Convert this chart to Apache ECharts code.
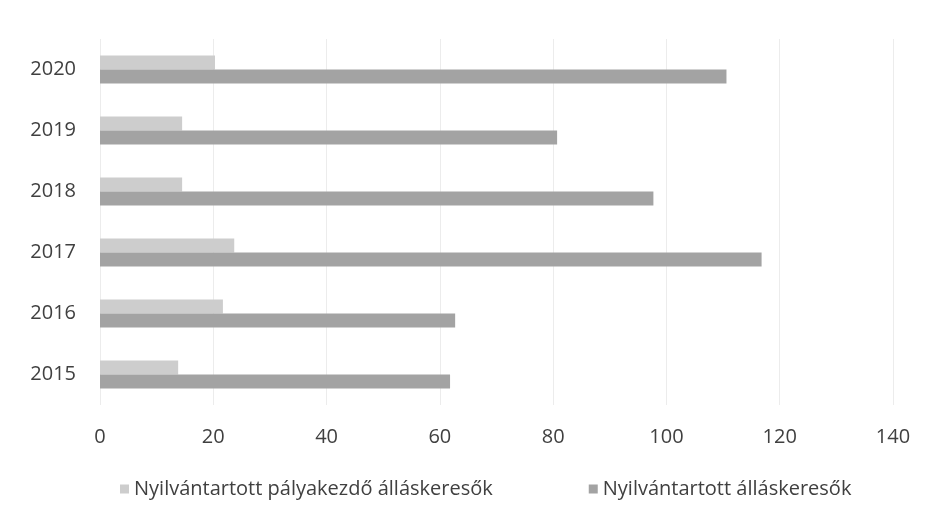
<!DOCTYPE html>
<html><head><meta charset="utf-8">
<script src="https://cdn.jsdelivr.net/npm/echarts@6/dist/echarts.min.js"></script>
<style>html,body{margin:0;padding:0;background:#fff}#c{width:930px;height:516px}</style>
</head><body><div id="c"></div>
<script>
const years = ['2015','2016','2017','2018','2019','2020'];
const palyakezdo = [13.8, 21.7, 23.7, 14.5, 14.5, 20.3];
const allaskeresok = [61.8, 62.7, 116.8, 97.7, 80.7, 110.6];
const xTicks = {min: 0, max: 140, interval: 20};
const nameLight = 'Nyilvántartott pályakezdő álláskeresők';
const nameDark = 'Nyilvántartott álláskeresők';

const chart = echarts.init(document.getElementById('c'));
chart.setOption({
  animation: false,
  textStyle: {fontFamily: 'Open Sans'},
  grid: {left: 100, right: 37, top: 39, bottom: 111, containLabel: false},
  legend: {
    data: [nameLight, nameDark],
    top: 474, left: 115,
    itemWidth: 9, itemHeight: 9, itemGap: 96,
    icon: 'rect',
    textStyle: {fontSize: 20, color: '#404040', fontFamily: 'Open Sans'}
  },
  xAxis: {
    type: 'value', min: xTicks.min, max: xTicks.max, interval: xTicks.interval,
    axisLine: {show: false}, axisTick: {show: false},
    axisLabel: {fontSize: 20, color: '#404040', margin: 22},
    splitLine: {lineStyle: {color: '#ececec'}}
  },
  yAxis: {
    type: 'category', data: years,
    axisLine: {show: false}, axisTick: {show: false},
    axisLabel: {fontSize: 20, color: '#404040', margin: 24}
  },
  series: [
    {name: nameLight, type: 'bar', data: palyakezdo, barWidth: 14, barGap: '0%',
     itemStyle: {color: '#cdcdcd'}},
    {name: nameDark, type: 'bar', data: allaskeresok, barWidth: 14, barGap: '0%',
     itemStyle: {color: '#a3a3a3'}}
  ]
});
</script></body></html>
